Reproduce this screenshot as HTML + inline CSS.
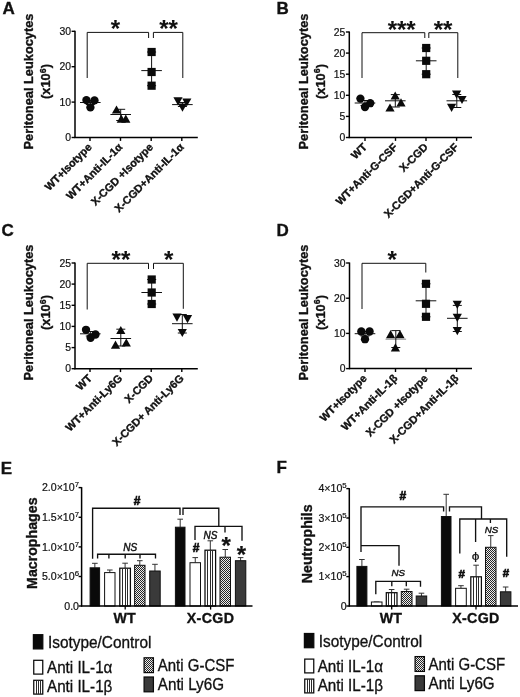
<!DOCTYPE html>
<html lang="en">
<head>
<meta charset="utf-8">
<title>Figure</title>
<style>
html,body{margin:0;padding:0;background:#fff;}
body{width:520px;height:697px;overflow:hidden;}
svg{display:block;}
svg text{font-family:"Liberation Sans",sans-serif;fill:#111;}
</style>
</head>
<body>
<svg width="520" height="697" viewBox="0 0 520 697">
<defs>
<pattern id="pv" width="3" height="3" patternUnits="userSpaceOnUse"><rect width="3" height="3" fill="#fff"/><rect x="0" y="0" width="1.1" height="3" fill="#222"/></pattern>
<pattern id="px" width="2" height="2" patternUnits="userSpaceOnUse"><rect width="2" height="2" fill="#ececec"/><rect x="0" y="0" width="1" height="1" fill="#262626"/><rect x="1" y="1" width="1" height="1" fill="#262626"/></pattern>
</defs>
<rect width="520" height="697" fill="#fff"/>
<text x="2.40" y="14.10" text-anchor="start" style="font-size:17px;stroke:#111;stroke-width:0.35px;font-weight:bold;">A</text>
<line x1="75.00" y1="30.75" x2="75.00" y2="138.10" stroke="#000" stroke-width="1.5"/>
<line x1="74.40" y1="137.50" x2="197.80" y2="137.50" stroke="#000" stroke-width="1.5"/>
<line x1="71.60" y1="137.50" x2="75.00" y2="137.50" stroke="#000" stroke-width="1.4"/>
<text x="71.00" y="141.20" text-anchor="end" style="font-size:10.4px;stroke:#111;stroke-width:0.2px;">0</text>
<line x1="71.60" y1="102.10" x2="75.00" y2="102.10" stroke="#000" stroke-width="1.4"/>
<text x="71.00" y="105.80" text-anchor="end" style="font-size:10.4px;stroke:#111;stroke-width:0.2px;">10</text>
<line x1="71.60" y1="66.70" x2="75.00" y2="66.70" stroke="#000" stroke-width="1.4"/>
<text x="71.00" y="70.40" text-anchor="end" style="font-size:10.4px;stroke:#111;stroke-width:0.2px;">20</text>
<line x1="71.60" y1="31.30" x2="75.00" y2="31.30" stroke="#000" stroke-width="1.4"/>
<text x="71.00" y="35.00" text-anchor="end" style="font-size:10.4px;stroke:#111;stroke-width:0.2px;">30</text>
<line x1="90.00" y1="137.50" x2="90.00" y2="140.90" stroke="#000" stroke-width="1.4"/>
<line x1="120.50" y1="137.50" x2="120.50" y2="140.90" stroke="#000" stroke-width="1.4"/>
<line x1="151.20" y1="137.50" x2="151.20" y2="140.90" stroke="#000" stroke-width="1.4"/>
<line x1="181.80" y1="137.50" x2="181.80" y2="140.90" stroke="#000" stroke-width="1.4"/>
<text x="92.60" y="147.80" text-anchor="end" style="font-size:10.9px;stroke:#111;stroke-width:0.35px;font-weight:bold;" transform="rotate(-45 92.60 147.80)">WT+Isotype</text>
<text x="123.10" y="147.80" text-anchor="end" style="font-size:10.9px;stroke:#111;stroke-width:0.35px;font-weight:bold;" transform="rotate(-45 123.10 147.80)">WT+Anti-IL-1α</text>
<text x="153.80" y="147.80" text-anchor="end" style="font-size:10.9px;stroke:#111;stroke-width:0.35px;font-weight:bold;" transform="rotate(-45 153.80 147.80)">X-CGD +Isotype</text>
<text x="184.40" y="147.80" text-anchor="end" style="font-size:10.9px;stroke:#111;stroke-width:0.35px;font-weight:bold;" transform="rotate(-45 184.40 147.80)">X-CGD+Anti-IL-1α</text>
<text x="33.10" y="81.50" text-anchor="middle" style="font-size:12.8px;stroke:#111;stroke-width:0.35px;font-weight:bold;" transform="rotate(-90 33.10 81.50)">Peritoneal Leukocytes</text>
<text x="50.20" y="81.50" text-anchor="middle" style="font-size:12.8px;stroke:#111;stroke-width:0.35px;font-weight:bold;" transform="rotate(-90 50.20 81.50)">(x10<tspan dy="-4.6" style="font-size:8.8px">6</tspan><tspan dy="4.6">)</tspan></text>
<line x1="80.00" y1="102.50" x2="100.60" y2="102.50" stroke="#111" stroke-width="1.0"/>
<line x1="90.30" y1="100.50" x2="90.30" y2="104.50" stroke="#111" stroke-width="1.0"/>
<line x1="85.80" y1="100.50" x2="94.80" y2="100.50" stroke="#111" stroke-width="1.0"/>
<line x1="85.80" y1="104.50" x2="94.80" y2="104.50" stroke="#111" stroke-width="1.0"/>
<circle cx="86.40" cy="100.10" r="4.15" fill="#0a0a0a"/>
<circle cx="94.50" cy="100.40" r="4.15" fill="#0a0a0a"/>
<circle cx="90.40" cy="107.40" r="4.15" fill="#0a0a0a"/>
<line x1="110.40" y1="114.50" x2="131.00" y2="114.50" stroke="#111" stroke-width="1.0"/>
<line x1="120.70" y1="109.30" x2="120.70" y2="120.50" stroke="#111" stroke-width="1.0"/>
<line x1="116.20" y1="109.30" x2="125.20" y2="109.30" stroke="#111" stroke-width="1.0"/>
<line x1="116.20" y1="120.50" x2="125.20" y2="120.50" stroke="#111" stroke-width="1.0"/>
<polygon points="111.90,113.60 121.10,113.60 116.50,105.40" fill="#0a0a0a"/>
<polygon points="116.70,122.70 125.90,122.70 121.30,114.50" fill="#0a0a0a"/>
<polygon points="121.20,122.70 130.40,122.70 125.80,114.50" fill="#0a0a0a"/>
<line x1="141.30" y1="70.60" x2="161.90" y2="70.60" stroke="#111" stroke-width="1.0"/>
<line x1="151.60" y1="52.00" x2="151.60" y2="85.70" stroke="#111" stroke-width="1.0"/>
<line x1="147.10" y1="52.00" x2="156.10" y2="52.00" stroke="#111" stroke-width="1.0"/>
<line x1="147.10" y1="85.70" x2="156.10" y2="85.70" stroke="#111" stroke-width="1.0"/>
<rect x="147.50" y="47.90" width="8.2" height="8.2" fill="#0a0a0a"/>
<rect x="147.50" y="67.90" width="8.2" height="8.2" fill="#0a0a0a"/>
<rect x="147.50" y="81.60" width="8.2" height="8.2" fill="#0a0a0a"/>
<line x1="172.10" y1="104.60" x2="192.70" y2="104.60" stroke="#111" stroke-width="1.0"/>
<line x1="182.40" y1="102.50" x2="182.40" y2="106.50" stroke="#111" stroke-width="1.0"/>
<line x1="177.90" y1="102.50" x2="186.90" y2="102.50" stroke="#111" stroke-width="1.0"/>
<line x1="177.90" y1="106.50" x2="186.90" y2="106.50" stroke="#111" stroke-width="1.0"/>
<polygon points="173.40,97.30 182.60,97.30 178.00,105.50" fill="#0a0a0a"/>
<polygon points="182.20,98.40 191.40,98.40 186.80,106.60" fill="#0a0a0a"/>
<polygon points="177.90,103.50 187.10,103.50 182.50,111.70" fill="#0a0a0a"/>
<polyline points="87.20,78.00 87.20,32.40 148.60,32.40 148.60,38.00" fill="none" stroke="#111" stroke-width="1.0"/>
<polyline points="153.40,38.00 153.40,32.40 182.80,32.40 182.80,78.00" fill="none" stroke="#111" stroke-width="1.0"/>
<text x="115.40" y="37.30" text-anchor="middle" style="font-size:24px;stroke:#111;stroke-width:0.1px;font-weight:bold;">*</text>
<text x="168.60" y="37.30" text-anchor="middle" style="font-size:24px;stroke:#111;stroke-width:0.1px;font-weight:bold;">**</text>
<text x="276.50" y="14.10" text-anchor="start" style="font-size:17px;stroke:#111;stroke-width:0.35px;font-weight:bold;">B</text>
<line x1="349.30" y1="31.50" x2="349.30" y2="138.10" stroke="#000" stroke-width="1.5"/>
<line x1="348.70" y1="137.50" x2="472.00" y2="137.50" stroke="#000" stroke-width="1.5"/>
<line x1="345.90" y1="137.50" x2="349.30" y2="137.50" stroke="#000" stroke-width="1.4"/>
<text x="345.30" y="141.20" text-anchor="end" style="font-size:10.4px;stroke:#111;stroke-width:0.2px;">0</text>
<line x1="345.90" y1="116.40" x2="349.30" y2="116.40" stroke="#000" stroke-width="1.4"/>
<text x="345.30" y="120.10" text-anchor="end" style="font-size:10.4px;stroke:#111;stroke-width:0.2px;">5</text>
<line x1="345.90" y1="95.30" x2="349.30" y2="95.30" stroke="#000" stroke-width="1.4"/>
<text x="345.30" y="99.00" text-anchor="end" style="font-size:10.4px;stroke:#111;stroke-width:0.2px;">10</text>
<line x1="345.90" y1="74.20" x2="349.30" y2="74.20" stroke="#000" stroke-width="1.4"/>
<text x="345.30" y="77.90" text-anchor="end" style="font-size:10.4px;stroke:#111;stroke-width:0.2px;">15</text>
<line x1="345.90" y1="53.10" x2="349.30" y2="53.10" stroke="#000" stroke-width="1.4"/>
<text x="345.30" y="56.80" text-anchor="end" style="font-size:10.4px;stroke:#111;stroke-width:0.2px;">20</text>
<line x1="345.90" y1="32.00" x2="349.30" y2="32.00" stroke="#000" stroke-width="1.4"/>
<text x="345.30" y="35.70" text-anchor="end" style="font-size:10.4px;stroke:#111;stroke-width:0.2px;">25</text>
<line x1="365.00" y1="137.50" x2="365.00" y2="140.90" stroke="#000" stroke-width="1.4"/>
<line x1="395.50" y1="137.50" x2="395.50" y2="140.90" stroke="#000" stroke-width="1.4"/>
<line x1="426.00" y1="137.50" x2="426.00" y2="140.90" stroke="#000" stroke-width="1.4"/>
<line x1="456.60" y1="137.50" x2="456.60" y2="140.90" stroke="#000" stroke-width="1.4"/>
<text x="367.60" y="147.80" text-anchor="end" style="font-size:10.9px;stroke:#111;stroke-width:0.35px;font-weight:bold;" transform="rotate(-45 367.60 147.80)">WT</text>
<text x="398.10" y="147.80" text-anchor="end" style="font-size:10.9px;stroke:#111;stroke-width:0.35px;font-weight:bold;" transform="rotate(-45 398.10 147.80)">WT+Anti-G-CSF</text>
<text x="428.60" y="147.80" text-anchor="end" style="font-size:10.9px;stroke:#111;stroke-width:0.35px;font-weight:bold;" transform="rotate(-45 428.60 147.80)">X-CGD</text>
<text x="459.20" y="147.80" text-anchor="end" style="font-size:10.9px;stroke:#111;stroke-width:0.35px;font-weight:bold;" transform="rotate(-45 459.20 147.80)">X-CGD+Anti-G-CSF</text>
<text x="307.90" y="81.50" text-anchor="middle" style="font-size:12.8px;stroke:#111;stroke-width:0.35px;font-weight:bold;" transform="rotate(-90 307.90 81.50)">Peritoneal Leukocytes</text>
<text x="324.90" y="81.50" text-anchor="middle" style="font-size:12.8px;stroke:#111;stroke-width:0.35px;font-weight:bold;" transform="rotate(-90 324.90 81.50)">(x10<tspan dy="-4.6" style="font-size:8.8px">6</tspan><tspan dy="4.6">)</tspan></text>
<line x1="354.70" y1="103.00" x2="375.30" y2="103.00" stroke="#111" stroke-width="1.0"/>
<line x1="365.00" y1="100.50" x2="365.00" y2="105.50" stroke="#111" stroke-width="1.0"/>
<line x1="360.50" y1="100.50" x2="369.50" y2="100.50" stroke="#111" stroke-width="1.0"/>
<line x1="360.50" y1="105.50" x2="369.50" y2="105.50" stroke="#111" stroke-width="1.0"/>
<circle cx="360.40" cy="98.60" r="4.15" fill="#0a0a0a"/>
<circle cx="370.20" cy="103.20" r="4.15" fill="#0a0a0a"/>
<circle cx="365.00" cy="107.00" r="4.15" fill="#0a0a0a"/>
<line x1="385.00" y1="100.80" x2="405.60" y2="100.80" stroke="#111" stroke-width="1.0"/>
<line x1="395.30" y1="94.60" x2="395.30" y2="107.00" stroke="#111" stroke-width="1.0"/>
<line x1="390.80" y1="94.60" x2="399.80" y2="94.60" stroke="#111" stroke-width="1.0"/>
<line x1="390.80" y1="107.00" x2="399.80" y2="107.00" stroke="#111" stroke-width="1.0"/>
<polygon points="390.60,99.60 399.80,99.60 395.20,91.40" fill="#0a0a0a"/>
<polygon points="396.40,106.40 405.60,106.40 401.00,98.20" fill="#0a0a0a"/>
<polygon points="385.40,111.60 394.60,111.60 390.00,103.40" fill="#0a0a0a"/>
<line x1="415.90" y1="60.80" x2="436.50" y2="60.80" stroke="#111" stroke-width="1.0"/>
<line x1="426.20" y1="48.00" x2="426.20" y2="74.20" stroke="#111" stroke-width="1.0"/>
<line x1="421.70" y1="48.00" x2="430.70" y2="48.00" stroke="#111" stroke-width="1.0"/>
<line x1="421.70" y1="74.20" x2="430.70" y2="74.20" stroke="#111" stroke-width="1.0"/>
<rect x="422.10" y="43.90" width="8.2" height="8.2" fill="#0a0a0a"/>
<rect x="422.10" y="56.70" width="8.2" height="8.2" fill="#0a0a0a"/>
<rect x="422.10" y="70.10" width="8.2" height="8.2" fill="#0a0a0a"/>
<line x1="446.50" y1="100.80" x2="467.10" y2="100.80" stroke="#111" stroke-width="1.0"/>
<line x1="456.80" y1="94.50" x2="456.80" y2="107.50" stroke="#111" stroke-width="1.0"/>
<line x1="452.30" y1="94.50" x2="461.30" y2="94.50" stroke="#111" stroke-width="1.0"/>
<line x1="452.30" y1="107.50" x2="461.30" y2="107.50" stroke="#111" stroke-width="1.0"/>
<polygon points="452.00,90.50 461.20,90.50 456.60,98.70" fill="#0a0a0a"/>
<polygon points="457.40,95.90 466.60,95.90 462.00,104.10" fill="#0a0a0a"/>
<polygon points="447.00,103.70 456.20,103.70 451.60,111.90" fill="#0a0a0a"/>
<polyline points="362.00,78.00 362.00,32.70 424.80,32.70 424.80,38.00" fill="none" stroke="#111" stroke-width="1.0"/>
<polyline points="428.80,38.00 428.80,32.70 457.80,32.70 457.80,78.00" fill="none" stroke="#111" stroke-width="1.0"/>
<text x="401.70" y="37.60" text-anchor="middle" style="font-size:24px;stroke:#111;stroke-width:0.1px;font-weight:bold;">***</text>
<text x="443.10" y="37.60" text-anchor="middle" style="font-size:24px;stroke:#111;stroke-width:0.1px;font-weight:bold;">**</text>
<text x="1.50" y="236.20" text-anchor="start" style="font-size:17px;stroke:#111;stroke-width:0.35px;font-weight:bold;">C</text>
<line x1="75.00" y1="262.50" x2="75.00" y2="369.30" stroke="#000" stroke-width="1.5"/>
<line x1="74.40" y1="368.70" x2="197.80" y2="368.70" stroke="#000" stroke-width="1.5"/>
<line x1="71.60" y1="368.70" x2="75.00" y2="368.70" stroke="#000" stroke-width="1.4"/>
<text x="71.00" y="372.40" text-anchor="end" style="font-size:10.4px;stroke:#111;stroke-width:0.2px;">0</text>
<line x1="71.60" y1="347.60" x2="75.00" y2="347.60" stroke="#000" stroke-width="1.4"/>
<text x="71.00" y="351.30" text-anchor="end" style="font-size:10.4px;stroke:#111;stroke-width:0.2px;">5</text>
<line x1="71.60" y1="326.40" x2="75.00" y2="326.40" stroke="#000" stroke-width="1.4"/>
<text x="71.00" y="330.10" text-anchor="end" style="font-size:10.4px;stroke:#111;stroke-width:0.2px;">10</text>
<line x1="71.60" y1="305.30" x2="75.00" y2="305.30" stroke="#000" stroke-width="1.4"/>
<text x="71.00" y="309.00" text-anchor="end" style="font-size:10.4px;stroke:#111;stroke-width:0.2px;">15</text>
<line x1="71.60" y1="284.10" x2="75.00" y2="284.10" stroke="#000" stroke-width="1.4"/>
<text x="71.00" y="287.80" text-anchor="end" style="font-size:10.4px;stroke:#111;stroke-width:0.2px;">20</text>
<line x1="71.60" y1="263.00" x2="75.00" y2="263.00" stroke="#000" stroke-width="1.4"/>
<text x="71.00" y="266.70" text-anchor="end" style="font-size:10.4px;stroke:#111;stroke-width:0.2px;">25</text>
<line x1="90.00" y1="368.70" x2="90.00" y2="372.10" stroke="#000" stroke-width="1.4"/>
<line x1="120.50" y1="368.70" x2="120.50" y2="372.10" stroke="#000" stroke-width="1.4"/>
<line x1="151.20" y1="368.70" x2="151.20" y2="372.10" stroke="#000" stroke-width="1.4"/>
<line x1="181.80" y1="368.70" x2="181.80" y2="372.10" stroke="#000" stroke-width="1.4"/>
<text x="92.60" y="379.00" text-anchor="end" style="font-size:10.9px;stroke:#111;stroke-width:0.35px;font-weight:bold;" transform="rotate(-45 92.60 379.00)">WT</text>
<text x="123.10" y="379.00" text-anchor="end" style="font-size:10.9px;stroke:#111;stroke-width:0.35px;font-weight:bold;" transform="rotate(-45 123.10 379.00)">WT+Anti-Ly6G</text>
<text x="153.80" y="379.00" text-anchor="end" style="font-size:10.9px;stroke:#111;stroke-width:0.35px;font-weight:bold;" transform="rotate(-45 153.80 379.00)">X-CGD</text>
<text x="184.40" y="379.00" text-anchor="end" style="font-size:10.9px;stroke:#111;stroke-width:0.35px;font-weight:bold;" transform="rotate(-45 184.40 379.00)">X-CGD+ Anti-Ly6G</text>
<text x="33.10" y="312.50" text-anchor="middle" style="font-size:12.8px;stroke:#111;stroke-width:0.35px;font-weight:bold;" transform="rotate(-90 33.10 312.50)">Peritoneal Leukocytes</text>
<text x="50.20" y="312.50" text-anchor="middle" style="font-size:12.8px;stroke:#111;stroke-width:0.35px;font-weight:bold;" transform="rotate(-90 50.20 312.50)">(x10<tspan dy="-4.6" style="font-size:8.8px">6</tspan><tspan dy="4.6">)</tspan></text>
<line x1="80.00" y1="333.80" x2="100.60" y2="333.80" stroke="#111" stroke-width="1.0"/>
<line x1="90.30" y1="331.50" x2="90.30" y2="336.00" stroke="#111" stroke-width="1.0"/>
<line x1="85.80" y1="331.50" x2="94.80" y2="331.50" stroke="#111" stroke-width="1.0"/>
<line x1="85.80" y1="336.00" x2="94.80" y2="336.00" stroke="#111" stroke-width="1.0"/>
<circle cx="86.00" cy="329.80" r="4.15" fill="#0a0a0a"/>
<circle cx="95.50" cy="334.50" r="4.15" fill="#0a0a0a"/>
<circle cx="90.60" cy="337.80" r="4.15" fill="#0a0a0a"/>
<line x1="110.50" y1="338.50" x2="131.10" y2="338.50" stroke="#111" stroke-width="1.0"/>
<line x1="120.80" y1="329.20" x2="120.80" y2="346.00" stroke="#111" stroke-width="1.0"/>
<line x1="116.30" y1="329.20" x2="125.30" y2="329.20" stroke="#111" stroke-width="1.0"/>
<line x1="116.30" y1="346.00" x2="125.30" y2="346.00" stroke="#111" stroke-width="1.0"/>
<polygon points="116.20,334.10 125.40,334.10 120.80,325.90" fill="#0a0a0a"/>
<polygon points="121.70,346.60 130.90,346.60 126.30,338.40" fill="#0a0a0a"/>
<polygon points="110.90,348.70 120.10,348.70 115.50,340.50" fill="#0a0a0a"/>
<line x1="141.40" y1="292.50" x2="162.00" y2="292.50" stroke="#111" stroke-width="1.0"/>
<line x1="151.70" y1="279.50" x2="151.70" y2="304.00" stroke="#111" stroke-width="1.0"/>
<line x1="147.20" y1="279.50" x2="156.20" y2="279.50" stroke="#111" stroke-width="1.0"/>
<line x1="147.20" y1="304.00" x2="156.20" y2="304.00" stroke="#111" stroke-width="1.0"/>
<rect x="147.60" y="275.40" width="8.2" height="8.2" fill="#0a0a0a"/>
<rect x="147.60" y="288.40" width="8.2" height="8.2" fill="#0a0a0a"/>
<rect x="147.60" y="299.90" width="8.2" height="8.2" fill="#0a0a0a"/>
<line x1="172.00" y1="323.70" x2="192.60" y2="323.70" stroke="#111" stroke-width="1.0"/>
<line x1="182.30" y1="314.50" x2="182.30" y2="333.00" stroke="#111" stroke-width="1.0"/>
<line x1="177.80" y1="314.50" x2="186.80" y2="314.50" stroke="#111" stroke-width="1.0"/>
<line x1="177.80" y1="333.00" x2="186.80" y2="333.00" stroke="#111" stroke-width="1.0"/>
<polygon points="172.40,313.60 181.60,313.60 177.00,321.80" fill="#0a0a0a"/>
<polygon points="182.90,315.10 192.10,315.10 187.50,323.30" fill="#0a0a0a"/>
<polygon points="177.70,328.90 186.90,328.90 182.30,337.10" fill="#0a0a0a"/>
<polyline points="87.20,309.50 87.20,263.30 148.50,263.30 148.50,269.00" fill="none" stroke="#111" stroke-width="1.0"/>
<polyline points="153.50,269.00 153.50,263.30 183.30,263.30 183.30,308.80" fill="none" stroke="#111" stroke-width="1.0"/>
<text x="120.90" y="268.30" text-anchor="middle" style="font-size:24px;stroke:#111;stroke-width:0.1px;font-weight:bold;">**</text>
<text x="168.60" y="268.30" text-anchor="middle" style="font-size:24px;stroke:#111;stroke-width:0.1px;font-weight:bold;">*</text>
<text x="276.50" y="236.10" text-anchor="start" style="font-size:17px;stroke:#111;stroke-width:0.35px;font-weight:bold;">D</text>
<line x1="349.50" y1="262.50" x2="349.50" y2="369.20" stroke="#000" stroke-width="1.5"/>
<line x1="348.90" y1="368.60" x2="472.00" y2="368.60" stroke="#000" stroke-width="1.5"/>
<line x1="346.10" y1="368.60" x2="349.50" y2="368.60" stroke="#000" stroke-width="1.4"/>
<text x="345.50" y="372.30" text-anchor="end" style="font-size:10.4px;stroke:#111;stroke-width:0.2px;">0</text>
<line x1="346.10" y1="333.40" x2="349.50" y2="333.40" stroke="#000" stroke-width="1.4"/>
<text x="345.50" y="337.10" text-anchor="end" style="font-size:10.4px;stroke:#111;stroke-width:0.2px;">10</text>
<line x1="346.10" y1="298.20" x2="349.50" y2="298.20" stroke="#000" stroke-width="1.4"/>
<text x="345.50" y="301.90" text-anchor="end" style="font-size:10.4px;stroke:#111;stroke-width:0.2px;">20</text>
<line x1="346.10" y1="263.00" x2="349.50" y2="263.00" stroke="#000" stroke-width="1.4"/>
<text x="345.50" y="266.70" text-anchor="end" style="font-size:10.4px;stroke:#111;stroke-width:0.2px;">30</text>
<line x1="365.00" y1="368.60" x2="365.00" y2="372.00" stroke="#000" stroke-width="1.4"/>
<line x1="395.50" y1="368.60" x2="395.50" y2="372.00" stroke="#000" stroke-width="1.4"/>
<line x1="426.00" y1="368.60" x2="426.00" y2="372.00" stroke="#000" stroke-width="1.4"/>
<line x1="456.60" y1="368.60" x2="456.60" y2="372.00" stroke="#000" stroke-width="1.4"/>
<text x="367.60" y="378.90" text-anchor="end" style="font-size:10.9px;stroke:#111;stroke-width:0.35px;font-weight:bold;" transform="rotate(-45 367.60 378.90)">WT+Isotype</text>
<text x="398.10" y="378.90" text-anchor="end" style="font-size:10.9px;stroke:#111;stroke-width:0.35px;font-weight:bold;" transform="rotate(-45 398.10 378.90)">WT+Anti-IL-1β</text>
<text x="428.60" y="378.90" text-anchor="end" style="font-size:10.9px;stroke:#111;stroke-width:0.35px;font-weight:bold;" transform="rotate(-45 428.60 378.90)">X-CGD +Isotype</text>
<text x="459.20" y="378.90" text-anchor="end" style="font-size:10.9px;stroke:#111;stroke-width:0.35px;font-weight:bold;" transform="rotate(-45 459.20 378.90)">X-CGD+Anti-IL-1β</text>
<text x="307.90" y="312.50" text-anchor="middle" style="font-size:12.8px;stroke:#111;stroke-width:0.35px;font-weight:bold;" transform="rotate(-90 307.90 312.50)">Peritoneal Leukocytes</text>
<text x="324.90" y="312.50" text-anchor="middle" style="font-size:12.8px;stroke:#111;stroke-width:0.35px;font-weight:bold;" transform="rotate(-90 324.90 312.50)">(x10<tspan dy="-4.6" style="font-size:8.8px">6</tspan><tspan dy="4.6">)</tspan></text>
<line x1="354.70" y1="333.70" x2="375.30" y2="333.70" stroke="#111" stroke-width="1.0"/>
<line x1="365.00" y1="331.50" x2="365.00" y2="336.00" stroke="#111" stroke-width="1.0"/>
<line x1="360.50" y1="331.50" x2="369.50" y2="331.50" stroke="#111" stroke-width="1.0"/>
<line x1="360.50" y1="336.00" x2="369.50" y2="336.00" stroke="#111" stroke-width="1.0"/>
<circle cx="361.30" cy="331.50" r="4.15" fill="#0a0a0a"/>
<circle cx="369.60" cy="331.50" r="4.15" fill="#0a0a0a"/>
<circle cx="365.00" cy="339.20" r="4.15" fill="#0a0a0a"/>
<line x1="385.50" y1="339.20" x2="406.10" y2="339.20" stroke="#888" stroke-width="1.0"/>
<line x1="395.80" y1="330.60" x2="395.80" y2="347.50" stroke="#111" stroke-width="1.0"/>
<line x1="391.30" y1="330.60" x2="400.30" y2="330.60" stroke="#111" stroke-width="1.0"/>
<line x1="391.30" y1="347.50" x2="400.30" y2="347.50" stroke="#111" stroke-width="1.0"/>
<polygon points="386.00,338.30 395.20,338.30 390.60,330.10" fill="#0a0a0a"/>
<polygon points="395.40,338.30 404.60,338.30 400.00,330.10" fill="#0a0a0a"/>
<polygon points="390.80,351.50 400.00,351.50 395.40,343.30" fill="#0a0a0a"/>
<line x1="415.70" y1="300.80" x2="436.30" y2="300.80" stroke="#111" stroke-width="1.0"/>
<line x1="426.00" y1="283.80" x2="426.00" y2="316.80" stroke="#111" stroke-width="1.0"/>
<line x1="421.50" y1="283.80" x2="430.50" y2="283.80" stroke="#111" stroke-width="1.0"/>
<line x1="421.50" y1="316.80" x2="430.50" y2="316.80" stroke="#111" stroke-width="1.0"/>
<rect x="421.90" y="279.70" width="8.2" height="8.2" fill="#0a0a0a"/>
<rect x="421.90" y="299.70" width="8.2" height="8.2" fill="#0a0a0a"/>
<rect x="421.90" y="312.70" width="8.2" height="8.2" fill="#0a0a0a"/>
<line x1="447.00" y1="318.30" x2="467.60" y2="318.30" stroke="#111" stroke-width="1.0"/>
<line x1="457.30" y1="305.40" x2="457.30" y2="331.50" stroke="#111" stroke-width="1.0"/>
<line x1="452.80" y1="305.40" x2="461.80" y2="305.40" stroke="#111" stroke-width="1.0"/>
<line x1="452.80" y1="331.50" x2="461.80" y2="331.50" stroke="#111" stroke-width="1.0"/>
<polygon points="452.70,300.70 461.90,300.70 457.30,308.90" fill="#0a0a0a"/>
<polygon points="452.70,313.80 461.90,313.80 457.30,322.00" fill="#0a0a0a"/>
<polygon points="452.70,327.10 461.90,327.10 457.30,335.30" fill="#0a0a0a"/>
<polyline points="362.00,309.00 362.00,263.30 425.80,263.30 425.80,272.50" fill="none" stroke="#111" stroke-width="1.0"/>
<text x="392.10" y="268.30" text-anchor="middle" style="font-size:24px;stroke:#111;stroke-width:0.1px;font-weight:bold;">*</text>
<text x="0.80" y="473.60" text-anchor="start" style="font-size:17px;stroke:#111;stroke-width:0.35px;font-weight:bold;">E</text>
<line x1="94.85" y1="563.30" x2="94.85" y2="567.80" stroke="#333" stroke-width="1.0"/>
<line x1="92.05" y1="563.30" x2="97.65" y2="563.30" stroke="#333" stroke-width="1.0"/>
<rect x="90.10" y="567.80" width="9.50" height="38.20" fill="#0a0a0a" stroke="#111" stroke-width="1"/>
<line x1="109.80" y1="570.00" x2="109.80" y2="572.60" stroke="#333" stroke-width="1.0"/>
<line x1="107.00" y1="570.00" x2="112.60" y2="570.00" stroke="#333" stroke-width="1.0"/>
<rect x="104.60" y="572.60" width="10.40" height="33.40" fill="#ffffff" stroke="#111" stroke-width="1"/>
<line x1="125.10" y1="563.20" x2="125.10" y2="568.20" stroke="#333" stroke-width="1.0"/>
<line x1="122.30" y1="563.20" x2="127.90" y2="563.20" stroke="#333" stroke-width="1.0"/>
<rect x="119.80" y="568.20" width="10.60" height="37.80" fill="#fff" stroke="#0a0a0a" stroke-width="1.25"/>
<line x1="122.50" y1="568.20" x2="122.50" y2="606.00" stroke="#2a2a2a" stroke-width="1"/>
<line x1="125.50" y1="568.20" x2="125.50" y2="606.00" stroke="#2a2a2a" stroke-width="1"/>
<line x1="127.50" y1="568.20" x2="127.50" y2="606.00" stroke="#2a2a2a" stroke-width="1"/>
<line x1="139.80" y1="560.70" x2="139.80" y2="565.30" stroke="#333" stroke-width="1.0"/>
<line x1="137.00" y1="560.70" x2="142.60" y2="560.70" stroke="#333" stroke-width="1.0"/>
<rect x="134.60" y="565.30" width="10.40" height="40.70" fill="url(#px)" stroke="#111" stroke-width="1"/>
<line x1="154.95" y1="564.30" x2="154.95" y2="571.00" stroke="#333" stroke-width="1.0"/>
<line x1="152.15" y1="564.30" x2="157.75" y2="564.30" stroke="#333" stroke-width="1.0"/>
<rect x="149.70" y="571.00" width="10.50" height="35.00" fill="#3a3a3a" stroke="#111" stroke-width="1"/>
<line x1="180.20" y1="519.20" x2="180.20" y2="527.20" stroke="#333" stroke-width="1.0"/>
<line x1="177.40" y1="519.20" x2="183.00" y2="519.20" stroke="#333" stroke-width="1.0"/>
<rect x="175.40" y="527.20" width="9.60" height="78.80" fill="#0a0a0a" stroke="#111" stroke-width="1"/>
<line x1="195.25" y1="557.60" x2="195.25" y2="562.70" stroke="#333" stroke-width="1.0"/>
<line x1="192.45" y1="557.60" x2="198.05" y2="557.60" stroke="#333" stroke-width="1.0"/>
<rect x="190.00" y="562.70" width="10.50" height="43.30" fill="#ffffff" stroke="#111" stroke-width="1"/>
<line x1="210.30" y1="540.80" x2="210.30" y2="550.20" stroke="#333" stroke-width="1.0"/>
<line x1="207.50" y1="540.80" x2="213.10" y2="540.80" stroke="#333" stroke-width="1.0"/>
<rect x="205.00" y="550.20" width="10.60" height="55.80" fill="#fff" stroke="#0a0a0a" stroke-width="1.25"/>
<line x1="207.50" y1="550.20" x2="207.50" y2="606.00" stroke="#2a2a2a" stroke-width="1"/>
<line x1="210.50" y1="550.20" x2="210.50" y2="606.00" stroke="#2a2a2a" stroke-width="1"/>
<line x1="212.50" y1="550.20" x2="212.50" y2="606.00" stroke="#2a2a2a" stroke-width="1"/>
<line x1="225.25" y1="549.50" x2="225.25" y2="557.20" stroke="#333" stroke-width="1.0"/>
<line x1="222.45" y1="549.50" x2="228.05" y2="549.50" stroke="#333" stroke-width="1.0"/>
<rect x="220.00" y="557.20" width="10.50" height="48.80" fill="url(#px)" stroke="#111" stroke-width="1"/>
<line x1="240.60" y1="557.60" x2="240.60" y2="560.70" stroke="#333" stroke-width="1.0"/>
<line x1="237.80" y1="557.60" x2="243.40" y2="557.60" stroke="#333" stroke-width="1.0"/>
<rect x="235.40" y="560.70" width="10.40" height="45.30" fill="#3a3a3a" stroke="#111" stroke-width="1"/>
<line x1="81.60" y1="487.10" x2="81.60" y2="606.60" stroke="#000" stroke-width="1.5"/>
<line x1="81.00" y1="606.00" x2="252.50" y2="606.00" stroke="#000" stroke-width="1.5"/>
<line x1="78.60" y1="606.00" x2="81.60" y2="606.00" stroke="#000" stroke-width="1.4"/>
<text x="79.00" y="609.80" text-anchor="end" style="font-size:10.6px;stroke:#111;stroke-width:0.2px;">0.0</text>
<line x1="78.60" y1="576.50" x2="81.60" y2="576.50" stroke="#000" stroke-width="1.4"/>
<text x="79.00" y="580.30" text-anchor="end" style="font-size:10.6px;stroke:#111;stroke-width:0.2px;">5.0×10<tspan dy="-4.2" style="font-size:7.8px">6</tspan></text>
<line x1="78.60" y1="546.90" x2="81.60" y2="546.90" stroke="#000" stroke-width="1.4"/>
<text x="79.00" y="550.70" text-anchor="end" style="font-size:10.6px;stroke:#111;stroke-width:0.2px;">1.0×10<tspan dy="-4.2" style="font-size:7.8px">7</tspan></text>
<line x1="78.60" y1="517.30" x2="81.60" y2="517.30" stroke="#000" stroke-width="1.4"/>
<text x="79.00" y="521.10" text-anchor="end" style="font-size:10.6px;stroke:#111;stroke-width:0.2px;">1.5×10<tspan dy="-4.2" style="font-size:7.8px">7</tspan></text>
<line x1="78.60" y1="487.60" x2="81.60" y2="487.60" stroke="#000" stroke-width="1.4"/>
<text x="79.00" y="491.40" text-anchor="end" style="font-size:10.6px;stroke:#111;stroke-width:0.2px;">2.0×10<tspan dy="-4.2" style="font-size:7.8px">7</tspan></text>
<line x1="125.20" y1="606.00" x2="125.20" y2="609.60" stroke="#000" stroke-width="1.3"/>
<line x1="210.60" y1="606.00" x2="210.60" y2="609.60" stroke="#000" stroke-width="1.3"/>
<text x="124.60" y="622.60" text-anchor="middle" style="font-size:14.2px;stroke:#111;stroke-width:0.35px;font-weight:bold;">WT</text>
<text x="210.50" y="622.60" text-anchor="middle" style="font-size:14.2px;stroke:#111;stroke-width:0.35px;font-weight:bold;" letter-spacing="0.35">X-CGD</text>
<text x="36.80" y="543.20" text-anchor="middle" style="font-size:14.2px;stroke:#111;stroke-width:0.35px;font-weight:bold;" transform="rotate(-90 36.80 543.20)">Macrophages</text>
<polyline points="92.60,558.80 92.60,508.20 180.00,508.20 180.00,515.00" fill="none" stroke="#111" stroke-width="1.35"/>
<polyline points="183.00,515.00 183.00,508.20 218.80,508.20 218.80,526.30" fill="none" stroke="#111" stroke-width="1.35"/>
<polyline points="195.00,540.00 195.00,526.30 242.00,526.30 242.00,540.80" fill="none" stroke="#111" stroke-width="1.35"/>
<line x1="225.00" y1="526.30" x2="225.00" y2="532.50" stroke="#111" stroke-width="1.35"/>
<polyline points="97.60,558.50 97.60,554.20 155.50,554.20 155.50,558.50" fill="none" stroke="#111" stroke-width="1.35"/>
<line x1="108.90" y1="554.20" x2="108.90" y2="558.50" stroke="#111" stroke-width="1.35"/>
<line x1="125.20" y1="554.20" x2="125.20" y2="558.50" stroke="#111" stroke-width="1.35"/>
<line x1="140.00" y1="554.20" x2="140.00" y2="558.50" stroke="#111" stroke-width="1.35"/>
<text x="130.20" y="551.40" text-anchor="middle" style="font-size:10px;stroke:#111;stroke-width:0.4px;font-style:italic;">NS</text>
<text x="210.50" y="538.50" text-anchor="middle" style="font-size:10px;stroke:#111;stroke-width:0.4px;font-style:italic;">NS</text>
<text x="137.20" y="504.60" text-anchor="middle" style="font-size:12px;stroke:#111;stroke-width:0.7px;font-weight:bold;">#</text>
<text x="196.00" y="552.00" text-anchor="middle" style="font-size:12px;stroke:#111;stroke-width:0.7px;font-weight:bold;">#</text>
<text x="226.20" y="553.70" text-anchor="middle" style="font-size:24px;stroke:#111;stroke-width:0.2px;font-weight:bold;">*</text>
<text x="241.50" y="562.90" text-anchor="middle" style="font-size:24px;stroke:#111;stroke-width:0.2px;font-weight:bold;">*</text>
<text x="276.50" y="473.40" text-anchor="start" style="font-size:17px;stroke:#111;stroke-width:0.35px;font-weight:bold;">F</text>
<line x1="361.90" y1="559.50" x2="361.90" y2="566.40" stroke="#333" stroke-width="1.0"/>
<line x1="359.10" y1="559.50" x2="364.70" y2="559.50" stroke="#333" stroke-width="1.0"/>
<rect x="356.90" y="566.40" width="10.00" height="39.60" fill="#0a0a0a" stroke="#111" stroke-width="1"/>
<line x1="376.70" y1="602.00" x2="376.70" y2="602.00" stroke="#333" stroke-width="1.0"/>
<line x1="373.90" y1="602.00" x2="379.50" y2="602.00" stroke="#333" stroke-width="1.0"/>
<rect x="371.40" y="602.00" width="10.60" height="4.00" fill="#ffffff" stroke="#111" stroke-width="1"/>
<line x1="391.65" y1="589.50" x2="391.65" y2="592.70" stroke="#333" stroke-width="1.0"/>
<line x1="388.85" y1="589.50" x2="394.45" y2="589.50" stroke="#333" stroke-width="1.0"/>
<rect x="386.30" y="592.70" width="10.70" height="13.30" fill="#fff" stroke="#0a0a0a" stroke-width="1.25"/>
<line x1="388.50" y1="592.70" x2="388.50" y2="606.00" stroke="#2a2a2a" stroke-width="1"/>
<line x1="391.50" y1="592.70" x2="391.50" y2="606.00" stroke="#2a2a2a" stroke-width="1"/>
<line x1="394.50" y1="592.70" x2="394.50" y2="606.00" stroke="#2a2a2a" stroke-width="1"/>
<line x1="406.65" y1="589.20" x2="406.65" y2="591.50" stroke="#333" stroke-width="1.0"/>
<line x1="403.85" y1="589.20" x2="409.45" y2="589.20" stroke="#333" stroke-width="1.0"/>
<rect x="401.30" y="591.50" width="10.70" height="14.50" fill="url(#px)" stroke="#111" stroke-width="1"/>
<line x1="421.45" y1="593.20" x2="421.45" y2="596.00" stroke="#333" stroke-width="1.0"/>
<line x1="418.65" y1="593.20" x2="424.25" y2="593.20" stroke="#333" stroke-width="1.0"/>
<rect x="416.20" y="596.00" width="10.50" height="10.00" fill="#3a3a3a" stroke="#111" stroke-width="1"/>
<line x1="446.20" y1="494.30" x2="446.20" y2="516.50" stroke="#333" stroke-width="1.0"/>
<line x1="443.40" y1="494.30" x2="449.00" y2="494.30" stroke="#333" stroke-width="1.0"/>
<rect x="441.40" y="516.50" width="9.60" height="89.50" fill="#0a0a0a" stroke="#111" stroke-width="1"/>
<line x1="460.95" y1="585.70" x2="460.95" y2="588.30" stroke="#333" stroke-width="1.0"/>
<line x1="458.15" y1="585.70" x2="463.75" y2="585.70" stroke="#333" stroke-width="1.0"/>
<rect x="455.60" y="588.30" width="10.70" height="17.70" fill="#ffffff" stroke="#111" stroke-width="1"/>
<line x1="476.10" y1="565.20" x2="476.10" y2="576.80" stroke="#333" stroke-width="1.0"/>
<line x1="473.30" y1="565.20" x2="478.90" y2="565.20" stroke="#333" stroke-width="1.0"/>
<rect x="470.80" y="576.80" width="10.60" height="29.20" fill="#fff" stroke="#0a0a0a" stroke-width="1.25"/>
<line x1="473.50" y1="576.80" x2="473.50" y2="606.00" stroke="#2a2a2a" stroke-width="1"/>
<line x1="476.50" y1="576.80" x2="476.50" y2="606.00" stroke="#2a2a2a" stroke-width="1"/>
<line x1="478.50" y1="576.80" x2="478.50" y2="606.00" stroke="#2a2a2a" stroke-width="1"/>
<line x1="490.75" y1="535.60" x2="490.75" y2="547.30" stroke="#333" stroke-width="1.0"/>
<line x1="487.95" y1="535.60" x2="493.55" y2="535.60" stroke="#333" stroke-width="1.0"/>
<rect x="485.50" y="547.30" width="10.50" height="58.70" fill="url(#px)" stroke="#111" stroke-width="1"/>
<line x1="505.65" y1="587.00" x2="505.65" y2="591.80" stroke="#333" stroke-width="1.0"/>
<line x1="502.85" y1="587.00" x2="508.45" y2="587.00" stroke="#333" stroke-width="1.0"/>
<rect x="500.40" y="591.80" width="10.50" height="14.20" fill="#3a3a3a" stroke="#111" stroke-width="1"/>
<line x1="349.30" y1="488.10" x2="349.30" y2="606.60" stroke="#000" stroke-width="1.5"/>
<line x1="348.70" y1="606.00" x2="518.00" y2="606.00" stroke="#000" stroke-width="1.5"/>
<line x1="346.30" y1="606.00" x2="349.30" y2="606.00" stroke="#000" stroke-width="1.4"/>
<text x="346.70" y="609.80" text-anchor="end" style="font-size:10.6px;stroke:#111;stroke-width:0.2px;">0</text>
<line x1="346.30" y1="576.60" x2="349.30" y2="576.60" stroke="#000" stroke-width="1.4"/>
<text x="346.70" y="580.40" text-anchor="end" style="font-size:10.6px;stroke:#111;stroke-width:0.2px;">1×10<tspan dy="-4.2" style="font-size:7.8px">5</tspan></text>
<line x1="346.30" y1="547.30" x2="349.30" y2="547.30" stroke="#000" stroke-width="1.4"/>
<text x="346.70" y="551.10" text-anchor="end" style="font-size:10.6px;stroke:#111;stroke-width:0.2px;">2×10<tspan dy="-4.2" style="font-size:7.8px">5</tspan></text>
<line x1="346.30" y1="518.00" x2="349.30" y2="518.00" stroke="#000" stroke-width="1.4"/>
<text x="346.70" y="521.80" text-anchor="end" style="font-size:10.6px;stroke:#111;stroke-width:0.2px;">3×10<tspan dy="-4.2" style="font-size:7.8px">5</tspan></text>
<line x1="346.30" y1="488.60" x2="349.30" y2="488.60" stroke="#000" stroke-width="1.4"/>
<text x="346.70" y="492.40" text-anchor="end" style="font-size:10.6px;stroke:#111;stroke-width:0.2px;">4×10<tspan dy="-4.2" style="font-size:7.8px">5</tspan></text>
<line x1="391.70" y1="606.00" x2="391.70" y2="609.60" stroke="#000" stroke-width="1.3"/>
<line x1="476.00" y1="606.00" x2="476.00" y2="609.60" stroke="#000" stroke-width="1.3"/>
<text x="390.80" y="622.60" text-anchor="middle" style="font-size:14.2px;stroke:#111;stroke-width:0.35px;font-weight:bold;">WT</text>
<text x="475.90" y="622.60" text-anchor="middle" style="font-size:14.2px;stroke:#111;stroke-width:0.35px;font-weight:bold;" letter-spacing="0.35">X-CGD</text>
<text x="312.40" y="543.80" text-anchor="middle" style="font-size:14.2px;stroke:#111;stroke-width:0.35px;font-weight:bold;" transform="rotate(-90 312.40 543.80)">Neutrophils</text>
<polyline points="361.00,552.00 361.00,506.90 443.60,506.90 443.60,511.60" fill="none" stroke="#111" stroke-width="1.35"/>
<polyline points="449.50,511.60 449.50,506.90 481.50,506.90 481.50,519.00" fill="none" stroke="#111" stroke-width="1.35"/>
<polyline points="361.00,545.60 399.00,545.60 399.00,565.80" fill="none" stroke="#111" stroke-width="1.35"/>
<polyline points="375.80,594.30 375.80,581.30 420.50,581.30 420.50,586.80" fill="none" stroke="#111" stroke-width="1.35"/>
<line x1="391.80" y1="581.30" x2="391.80" y2="586.30" stroke="#111" stroke-width="1.35"/>
<line x1="406.30" y1="581.30" x2="406.30" y2="586.30" stroke="#111" stroke-width="1.35"/>
<text x="398.20" y="576.40" text-anchor="middle" style="font-size:9.7px;stroke:#111;stroke-width:0.4px;font-style:italic;">NS</text>
<polyline points="459.80,553.50 459.80,519.00 506.70,519.00 506.70,556.70" fill="none" stroke="#111" stroke-width="1.35"/>
<line x1="475.60" y1="519.00" x2="475.60" y2="542.00" stroke="#111" stroke-width="1.35"/>
<line x1="490.40" y1="519.00" x2="490.40" y2="523.00" stroke="#111" stroke-width="1.35"/>
<text x="491.40" y="532.90" text-anchor="middle" style="font-size:9.7px;stroke:#111;stroke-width:0.4px;font-style:italic;">NS</text>
<text x="402.90" y="500.30" text-anchor="middle" style="font-size:12px;stroke:#111;stroke-width:0.7px;font-weight:bold;">#</text>
<text x="461.70" y="578.20" text-anchor="middle" style="font-size:11.5px;stroke:#111;stroke-width:0.7px;font-weight:bold;">#</text>
<text x="506.00" y="577.00" text-anchor="middle" style="font-size:11.5px;stroke:#111;stroke-width:0.7px;font-weight:bold;">#</text>
<text transform="translate(475.5 560.1) scale(1.3 1)" text-anchor="middle" style="font-size:10.6px;stroke:#111;stroke-width:0.15px">ϕ</text>
<rect x="33.40" y="634.70" width="9.40" height="14.20" fill="#0a0a0a" stroke="#0a0a0a" stroke-width="1.25"/>
<rect x="33.75" y="660.30" width="9.00" height="13.80" fill="#ffffff" stroke="#0a0a0a" stroke-width="1.25"/>
<rect x="33.75" y="680.30" width="9.00" height="13.80" fill="#fff" stroke="#0a0a0a" stroke-width="1.25"/>
<line x1="36.50" y1="680.30" x2="36.50" y2="694.10" stroke="#2a2a2a" stroke-width="1"/>
<line x1="38.50" y1="680.30" x2="38.50" y2="694.10" stroke="#2a2a2a" stroke-width="1"/>
<line x1="40.50" y1="680.30" x2="40.50" y2="694.10" stroke="#2a2a2a" stroke-width="1"/>
<rect x="144.10" y="657.80" width="9.30" height="14.80" fill="url(#px)" stroke="#0a0a0a" stroke-width="1.25"/>
<rect x="144.10" y="677.00" width="9.30" height="14.80" fill="#3a3a3a" stroke="#0a0a0a" stroke-width="1.25"/>
<text transform="translate(48.00 647.70) scale(1 1.05)" style="font-size:15.4px;stroke:#111;stroke-width:0.3px">Isotype/Control</text>
<text transform="translate(47.00 672.70) scale(1 1.05)" style="font-size:15.2px;stroke:#111;stroke-width:0.3px">Anti IL-1α</text>
<text transform="translate(47.00 692.10) scale(1 1.05)" style="font-size:15.2px;stroke:#111;stroke-width:0.3px">Anti IL-1β</text>
<text transform="translate(157.80 671.40) scale(1 1.05)" style="font-size:15.0px;stroke:#111;stroke-width:0.3px">Anti G-CSF</text>
<text transform="translate(157.80 689.70) scale(1 1.05)" style="font-size:15.2px;stroke:#111;stroke-width:0.3px">Anti Ly6G</text>
<rect x="304.40" y="633.50" width="9.40" height="14.20" fill="#0a0a0a" stroke="#0a0a0a" stroke-width="1.25"/>
<rect x="304.75" y="659.10" width="9.00" height="13.80" fill="#ffffff" stroke="#0a0a0a" stroke-width="1.25"/>
<rect x="304.75" y="679.10" width="9.00" height="13.80" fill="#fff" stroke="#0a0a0a" stroke-width="1.25"/>
<line x1="307.50" y1="679.10" x2="307.50" y2="692.90" stroke="#2a2a2a" stroke-width="1"/>
<line x1="309.50" y1="679.10" x2="309.50" y2="692.90" stroke="#2a2a2a" stroke-width="1"/>
<line x1="311.50" y1="679.10" x2="311.50" y2="692.90" stroke="#2a2a2a" stroke-width="1"/>
<rect x="415.10" y="656.60" width="9.30" height="14.80" fill="url(#px)" stroke="#0a0a0a" stroke-width="1.25"/>
<rect x="415.10" y="675.80" width="9.30" height="14.80" fill="#3a3a3a" stroke="#0a0a0a" stroke-width="1.25"/>
<text transform="translate(318.70 646.50) scale(1 1.05)" style="font-size:15.4px;stroke:#111;stroke-width:0.3px">Isotype/Control</text>
<text transform="translate(317.70 671.50) scale(1 1.05)" style="font-size:15.2px;stroke:#111;stroke-width:0.3px">Anti IL-1α</text>
<text transform="translate(317.70 690.90) scale(1 1.05)" style="font-size:15.2px;stroke:#111;stroke-width:0.3px">Anti IL-1β</text>
<text transform="translate(428.50 670.20) scale(1 1.05)" style="font-size:15.0px;stroke:#111;stroke-width:0.3px">Anti G-CSF</text>
<text transform="translate(428.50 688.50) scale(1 1.05)" style="font-size:15.2px;stroke:#111;stroke-width:0.3px">Anti Ly6G</text>
</svg>
</body>
</html>
